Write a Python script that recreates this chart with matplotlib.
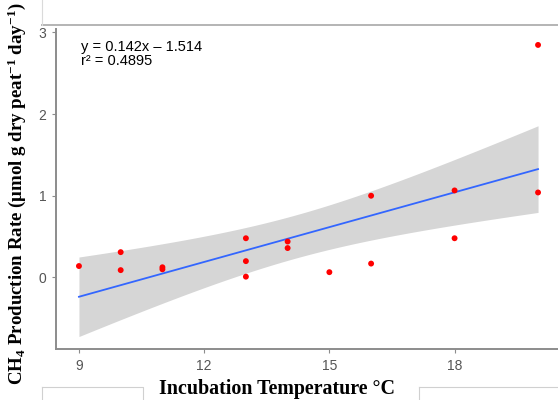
import numpy as np
import matplotlib.pyplot as plt
from matplotlib.lines import Line2D

plt.rcParams['font.family'] = ['Liberation Sans', 'DejaVu Sans']
plt.rcParams['mathtext.fontset'] = 'custom'
plt.rcParams['mathtext.rm'] = 'Liberation Serif:bold'
plt.rcParams['mathtext.it'] = 'Liberation Serif:bold'
plt.rcParams['mathtext.bf'] = 'Liberation Serif:bold'

# incubation temperature (°C) and CH4 production rate
temp = [9, 10, 10, 11, 11, 13, 13, 13, 14, 14, 15, 16, 16, 18, 18, 20, 20]
rate = [0.14, 0.31, 0.09, 0.125, 0.10, 0.48, 0.20, 0.01, 0.44, 0.36,
        0.065, 1.00, 0.17, 1.065, 0.48, 1.04, 2.845]

# fitted line as reported
slope = 0.142
intercept = -1.514
r2 = 0.4895
t_crit = 2.131  # t(0.975, df=15)

x = np.array(temp, dtype=float)
y = np.array(rate, dtype=float)
n = len(x)
resid = y - (slope * x + intercept)
s = np.sqrt(np.sum(resid ** 2) / (n - 2))
sxx = np.sum((x - x.mean()) ** 2)

xs = np.linspace(x.min(), x.max(), 100)
ys = slope * xs + intercept
half = t_crit * s * np.sqrt(1 / n + (xs - x.mean()) ** 2 / sxx)

fig = plt.figure(figsize=(5.58, 4), dpi=100)
ax = fig.add_axes([56 / 558, 51 / 400, 505 / 558, 320 / 400])

ax.fill_between(xs, ys - half, ys + half, color='#d6d6d6', lw=0, zorder=1)
ax.plot(xs, ys, color='#3366ff', lw=1.3, zorder=2)
ax.scatter(x, y, s=18, color='#ff0000', edgecolors='none', zorder=3)

ax.set_xlim(8.45, 20.55)
ax.set_ylim(-0.875, 3.04)
ax.set_xticks([9, 12, 15, 18])
ax.set_yticks([0, 1, 2, 3])

for side in ['top', 'right']:
    ax.spines[side].set_visible(False)
for side in ['left', 'bottom']:
    ax.spines[side].set_color('#8c8c8c')
    ax.spines[side].set_linewidth(1.4)
ax.tick_params(colors='#8c8c8c', length=3, width=0.8, labelsize=10,
               labelcolor='#555555', pad=4)

ax.text(9.05, 2.91, 'y = 0.142x \u2013 1.514\nr\u00b2 = %.4f' % r2,
        ha='left', va='top', fontsize=10.5, color='black', linespacing=1.0)

ax.set_xlabel('Incubation Temperature \u00b0C', family='Liberation Serif',
              fontweight='bold', fontsize=14.4)
ax.xaxis.set_label_coords(221 / 505, -0.094)
ax.set_ylabel('CH$_4$ Production Rate (\u03bcmol g dry peat$^{-1}$ day$^{-1}$)',
              family='Liberation Serif', fontweight='bold', fontsize=13.6)
ax.yaxis.set_label_coords(-28 / 505, 0.484)

# frame lines around the plot area
W, H = 558, 400
grey = '#b4b4b4'
fig.add_artist(Line2D([42 / W, 1], [1 - 24.5 / H, 1 - 24.5 / H], color=grey, lw=1.4))
fig.add_artist(Line2D([42 / W, 42 / W], [1, 1 - 24.5 / H], color='#dadada', lw=0.8))
for x0, x1 in [(42, 143), (419, 560)]:
    fig.add_artist(Line2D([x0 / W, x1 / W, x1 / W], [13 / H, 13 / H, 0],
                          color='#d0d0d0', lw=0.8))
    fig.add_artist(Line2D([x0 / W, x0 / W], [13 / H, 0], color='#d0d0d0', lw=0.8))

fig.savefig('out.png', dpi=100)
